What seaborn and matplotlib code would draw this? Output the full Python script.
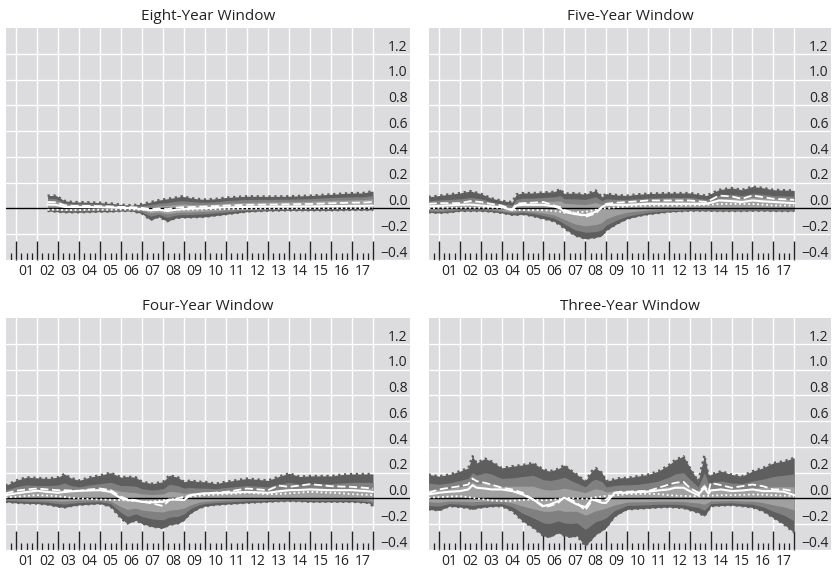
import matplotlib
matplotlib.use('Agg')
import matplotlib.pyplot as plt
import numpy as np
import pandas as pd
import seaborn as sns

sns.set_style('white')
plt.rcParams['font.family'] = ['Open Sans', 'DejaVu Sans']

YEAR_LABELS = ['01', '02', '03', '04', '05', '06', '07', '08', '09',
               '10', '11', '12', '13', '14', '15', '16', '17']
Y_TICKS = [-0.4, -0.2, 0.0, 0.2, 0.4, 0.6, 0.8, 1.0, 1.2]
Y_LABELS = ['\u22120.4', '\u22120.2', '0.0', '0.2', '0.4', '0.6', '0.8', '1.0', '1.2']

# ---- Eight-Year Window ----
eight_x = [2002.5, 2002.9, 2003.3, 2003.7, 2004, 2004.5, 2005, 2005.5, 2006, 2006.5,
           2007, 2007.4, 2007.8, 2008.2, 2008.6, 2008.9, 2009.2, 2009.6, 2010, 2010.5,
           2011, 2011.5, 2012, 2013, 2014, 2015, 2016, 2017, 2017.5, 2018]
eight_outer_hi = [0.10, 0.10, 0.06, 0.05, 0.05, 0.048, 0.045, 0.04, 0.03, 0.025,
                  0.035, 0.05, 0.065, 0.075, 0.085, 0.095, 0.085, 0.075, 0.07, 0.075,
                  0.085, 0.09, 0.095, 0.093, 0.095, 0.10, 0.11, 0.12, 0.12, 0.135]
eight_outer_lo = [-0.02, -0.025, -0.03, -0.03, -0.03, -0.028, -0.025, -0.025, -0.02, -0.02,
                  -0.04, -0.09, -0.065, -0.10, -0.075, -0.07, -0.07, -0.068, -0.065, -0.055,
                  -0.045, -0.035, -0.025, -0.018, -0.015, -0.015, -0.015, -0.012, -0.012, -0.012]
eight_mid_hi = [0.08, 0.075, 0.045, 0.038, 0.038, 0.036, 0.034, 0.03, 0.022, 0.018,
                0.022, 0.03, 0.04, 0.045, 0.055, 0.06, 0.055, 0.05, 0.048, 0.052,
                0.06, 0.065, 0.07, 0.07, 0.072, 0.076, 0.085, 0.09, 0.09, 0.10]
eight_mid_lo = [-0.012, -0.016, -0.02, -0.02, -0.02, -0.018, -0.016, -0.016, -0.012, -0.012,
                -0.028, -0.06, -0.045, -0.07, -0.052, -0.048, -0.048, -0.045, -0.042, -0.035,
                -0.028, -0.02, -0.015, -0.01, -0.008, -0.008, -0.008, -0.006, -0.006, -0.006]
eight_inner_hi = [0.06, 0.055, 0.032, 0.026, 0.026, 0.025, 0.024, 0.02, 0.014, 0.012,
                  0.012, 0.014, 0.02, 0.025, 0.03, 0.035, 0.032, 0.03, 0.03, 0.034,
                  0.04, 0.044, 0.048, 0.05, 0.052, 0.056, 0.062, 0.066, 0.068, 0.075]
eight_inner_lo = [-0.005, -0.008, -0.012, -0.012, -0.012, -0.01, -0.008, -0.008, -0.005, -0.005,
                  -0.015, -0.035, -0.028, -0.042, -0.032, -0.028, -0.028, -0.025, -0.022, -0.018,
                  -0.012, -0.008, -0.005, -0.002, 0.0, 0.0, 0.0, 0.0, 0.0, 0.0]
eight_dashed = [0.05, 0.048, 0.025, 0.02, 0.02, 0.02, 0.018, 0.015, 0.012, 0.01,
                0.005, -0.005, 0.0, -0.005, 0.005, 0.01, 0.01, 0.012, 0.015, 0.018,
                0.022, 0.025, 0.028, 0.03, 0.032, 0.035, 0.04, 0.045, 0.045, 0.05]
eight_solid = [0.03, 0.028, 0.012, 0.01, 0.01, 0.01, 0.008, 0.006, 0.004, 0.003,
               -0.005, -0.015, -0.01, -0.02, -0.01, -0.005, -0.003, 0.0, 0.002, 0.005,
               0.008, 0.01, 0.012, 0.014, 0.015, 0.016, 0.018, 0.02, 0.02, 0.022]
eight_dotted = [-0.01, -0.01, -0.012, -0.012, -0.012, -0.01, -0.01, -0.01, -0.008, -0.008,
                -0.01, -0.012, -0.012, -0.012, -0.01, -0.01, -0.01, -0.008, -0.006, -0.005,
                -0.004, -0.003, -0.002, 0.0, 0.0, 0.002, 0.002, 0.003, 0.003, 0.004]

# ---- Five-Year Window ----
five_x = [2000.5, 2001, 2001.5, 2002, 2002.5, 2003, 2003.5, 2004, 2004.5, 2004.7,
          2005, 2005.5, 2006, 2006.5, 2006.8, 2007, 2007.5, 2008, 2008.5, 2008.8,
          2009, 2009.5, 2010, 2010.5, 2011, 2012, 2013, 2013.8, 2014.4, 2015,
          2015.5, 2016, 2016.5, 2017, 2018]
five_outer_hi = [0.09, 0.10, 0.11, 0.12, 0.135, 0.115, 0.08, 0.06, 0.05, 0.11,
                 0.12, 0.12, 0.125, 0.13, 0.15, 0.115, 0.12, 0.11, 0.14, 0.09,
                 0.115, 0.105, 0.10, 0.11, 0.115, 0.12, 0.12, 0.10, 0.145, 0.16,
                 0.145, 0.17, 0.16, 0.145, 0.14]
five_outer_lo = [-0.03, -0.035, -0.03, -0.02, -0.02, -0.02, -0.025, -0.035, -0.05, -0.05,
                 -0.045, -0.06, -0.08, -0.10, -0.13, -0.155, -0.21, -0.235, -0.225, -0.21,
                 -0.17, -0.12, -0.08, -0.06, -0.045, -0.026, -0.018, -0.018, -0.02, -0.02,
                 -0.02, -0.018, -0.018, -0.02, -0.02]
five_mid_hi = [0.06, 0.065, 0.07, 0.075, 0.085, 0.075, 0.05, 0.035, 0.025, 0.07,
               0.08, 0.08, 0.085, 0.09, 0.10, 0.075, 0.075, 0.07, 0.09, 0.06,
               0.075, 0.07, 0.07, 0.075, 0.08, 0.085, 0.085, 0.07, 0.10, 0.11,
               0.10, 0.115, 0.11, 0.10, 0.095]
five_mid_lo = [-0.02, -0.025, -0.02, -0.012, -0.012, -0.012, -0.015, -0.025, -0.035, -0.035,
               -0.03, -0.04, -0.055, -0.075, -0.10, -0.12, -0.165, -0.185, -0.18, -0.165,
               -0.13, -0.09, -0.06, -0.045, -0.03, -0.018, -0.012, -0.012, -0.014, -0.014,
               -0.014, -0.012, -0.012, -0.014, -0.014]
five_inner_hi = [0.04, 0.04, 0.045, 0.05, 0.055, 0.05, 0.035, 0.02, 0.01, 0.04,
                 0.05, 0.05, 0.055, 0.055, 0.06, 0.04, 0.035, 0.03, 0.045, 0.03,
                 0.045, 0.045, 0.045, 0.05, 0.055, 0.06, 0.06, 0.05, 0.075, 0.08,
                 0.075, 0.085, 0.08, 0.075, 0.07]
five_inner_lo = [-0.01, -0.012, -0.008, 0.0, 0.0, 0.0, -0.005, -0.015, -0.025, -0.02,
                 -0.018, -0.025, -0.035, -0.05, -0.07, -0.085, -0.12, -0.135, -0.125, -0.11,
                 -0.08, -0.05, -0.03, -0.02, -0.012, -0.005, 0.0, 0.0, 0.0, 0.0,
                 0.0, 0.0, 0.0, 0.0, 0.0]
five_dashed = [0.036, 0.041, 0.041, 0.041, 0.057, 0.05, 0.035, 0.023, -0.008, 0.036,
               0.041, 0.045, 0.05, 0.023, 0.01, -0.013, -0.034, -0.065, -0.039, 0.01,
               0.036, 0.045, 0.05, 0.055, 0.062, 0.062, 0.062, 0.05, 0.10, 0.093,
               0.075, 0.10, 0.088, 0.075, 0.067]
five_solid = [0.016, 0.02, 0.024, 0.028, 0.03, 0.023, 0.016, 0.01, -0.013, 0.023,
              0.028, 0.028, 0.028, 0.016, 0.0, -0.026, -0.044, -0.052, -0.026, 0.01,
              0.028, 0.028, 0.028, 0.032, 0.036, 0.036, 0.036, 0.036, 0.062, 0.057,
              0.05, 0.062, 0.055, 0.05, 0.041]
five_dotted = [0.0, 0.005, 0.005, 0.005, 0.005, 0.005, 0.005, 0.005, -0.005, -0.013,
               -0.013, -0.013, -0.013, -0.02, -0.026, -0.034, -0.03, -0.026, -0.01, 0.0,
               0.0, 0.01, 0.016, 0.02, 0.023, 0.023, 0.023, 0.028, 0.034, 0.036,
               0.034, 0.034, 0.03, 0.023, 0.023]

# ---- Four-Year Window ----
four_x = [2000.5, 2001, 2001.5, 2002, 2002.5, 2003, 2003.3, 2003.6, 2004, 2004.5,
          2005, 2005.5, 2006, 2006.3, 2006.7, 2007, 2007.5, 2008, 2008.3, 2008.7,
          2009, 2009.3, 2009.7, 2010, 2010.5, 2011, 2012, 2013, 2013.5, 2014,
          2014.5, 2015, 2016, 2016.5, 2017, 2017.8, 2018]
four_outer_hi = [0.10, 0.14, 0.165, 0.16, 0.155, 0.165, 0.19, 0.16, 0.14, 0.165,
                 0.18, 0.20, 0.165, 0.17, 0.165, 0.13, 0.115, 0.13, 0.18, 0.165,
                 0.13, 0.14, 0.13, 0.13, 0.115, 0.13, 0.155, 0.14, 0.17, 0.195,
                 0.17, 0.175, 0.175, 0.185, 0.19, 0.19, 0.19]
four_outer_lo = [-0.026, -0.034, -0.038, -0.04, -0.048, -0.064, -0.07, -0.06, -0.05, -0.045,
                 -0.04, -0.064, -0.155, -0.195, -0.17, -0.195, -0.22, -0.23, -0.205, -0.195,
                 -0.168, -0.115, -0.077, -0.06, -0.05, -0.044, -0.034, -0.026, -0.022, -0.02,
                 -0.022, -0.026, -0.026, -0.026, -0.026, -0.035, -0.06]
four_mid_hi = [0.065, 0.09, 0.105, 0.10, 0.10, 0.105, 0.12, 0.10, 0.09, 0.105,
               0.115, 0.125, 0.10, 0.10, 0.095, 0.075, 0.065, 0.075, 0.11, 0.10,
               0.08, 0.085, 0.08, 0.08, 0.075, 0.085, 0.10, 0.09, 0.11, 0.125,
               0.11, 0.115, 0.115, 0.12, 0.125, 0.125, 0.125]
four_mid_lo = [-0.015, -0.02, -0.024, -0.026, -0.03, -0.04, -0.045, -0.038, -0.032, -0.028,
               -0.025, -0.04, -0.11, -0.14, -0.12, -0.14, -0.16, -0.165, -0.145, -0.14,
               -0.12, -0.08, -0.05, -0.04, -0.032, -0.028, -0.02, -0.015, -0.012, -0.01,
               -0.012, -0.015, -0.015, -0.015, -0.015, -0.025, -0.04]
four_inner_hi = [0.04, 0.055, 0.065, 0.065, 0.065, 0.065, 0.07, 0.06, 0.055, 0.065,
                 0.07, 0.075, 0.055, 0.05, 0.045, 0.035, 0.03, 0.035, 0.055, 0.05,
                 0.04, 0.045, 0.045, 0.045, 0.045, 0.05, 0.06, 0.055, 0.07, 0.08,
                 0.07, 0.075, 0.075, 0.075, 0.08, 0.08, 0.08]
four_inner_lo = [-0.005, -0.008, -0.01, -0.012, -0.015, -0.02, -0.022, -0.018, -0.015, -0.012,
                 -0.01, -0.02, -0.065, -0.085, -0.075, -0.09, -0.1, -0.105, -0.09, -0.085,
                 -0.075, -0.05, -0.03, -0.022, -0.016, -0.012, -0.008, -0.005, -0.003, 0.0,
                 -0.002, -0.004, -0.004, -0.004, -0.004, -0.012, -0.02]
four_dashed = [0.039, 0.06, 0.07, 0.077, 0.07, 0.064, 0.064, 0.062, 0.059, 0.07,
               0.077, 0.064, 0.013, -0.005, -0.013, -0.026, -0.039, -0.059, -0.013, 0.0,
               0.013, 0.025, 0.035, 0.039, 0.045, 0.051, 0.077, 0.064, 0.10, 0.09,
               0.10, 0.111, 0.095, 0.092, 0.09, 0.08, 0.077]
four_solid = [0.026, 0.039, 0.05, 0.06, 0.05, 0.044, 0.05, 0.055, 0.059, 0.062,
              0.064, 0.051, 0.0, -0.012, -0.018, -0.026, -0.03, -0.026, -0.008, -0.01,
              -0.013, 0.026, 0.035, 0.039, 0.042, 0.044, 0.051, 0.044, 0.055, 0.064,
              0.066, 0.07, 0.064, 0.064, 0.064, 0.055, 0.051]
four_dotted = [0.008, 0.013, 0.02, 0.026, 0.022, 0.018, 0.012, 0.006, 0.0, -0.004,
               -0.008, -0.01, -0.013, -0.016, -0.02, -0.026, -0.022, -0.013, -0.01, 0.0,
               0.008, 0.015, 0.02, 0.026, 0.03, 0.033, 0.044, 0.033, 0.035, 0.039,
               0.045, 0.051, 0.044, 0.04, 0.033, 0.028, 0.026]

# ---- Three-Year Window ----
three_x = [2000.5, 2001, 2001.5, 2002, 2002.4, 2002.6, 2002.8, 2003.2, 2003.5, 2004,
           2004.5, 2005, 2005.5, 2006, 2006.3, 2006.7, 2007, 2007.3, 2007.6, 2008.0,
           2008.3, 2008.5, 2008.8, 2009, 2009.4, 2009.7, 2010, 2010.5, 2011, 2011.5,
           2012, 2012.3, 2012.7, 2013, 2013.4, 2013.7, 2013.9, 2014, 2014.5, 2015,
           2015.5, 2016, 2016.5, 2017, 2017.5, 2018]
three_outer_hi = [0.186, 0.173, 0.186, 0.212, 0.237, 0.328, 0.276, 0.31, 0.289, 0.237,
                  0.25, 0.26, 0.276, 0.225, 0.212, 0.23, 0.26, 0.22, 0.186, 0.134,
                  0.212, 0.237, 0.20, 0.134, 0.15, 0.16, 0.16, 0.173, 0.186, 0.212,
                  0.26, 0.30, 0.328, 0.24, 0.134, 0.336, 0.173, 0.186, 0.212, 0.186,
                  0.173, 0.212, 0.237, 0.276, 0.289, 0.315]
three_outer_lo = [-0.085, -0.093, -0.06, -0.067, -0.075, -0.085, -0.075, -0.067, -0.062, -0.06,
                  -0.098, -0.176, -0.227, -0.292, -0.30, -0.266, -0.29, -0.30, -0.29, -0.37,
                  -0.317, -0.28, -0.25, -0.227, -0.14, -0.11, -0.085, -0.08, -0.075, -0.07,
                  -0.067, -0.07, -0.075, -0.09, -0.11, -0.137, -0.09, -0.06, -0.055, -0.052,
                  -0.06, -0.07, -0.098, -0.15, -0.20, -0.266]
three_mid_hi = [0.12, 0.11, 0.12, 0.14, 0.155, 0.2, 0.18, 0.2, 0.19, 0.155,
                0.16, 0.17, 0.18, 0.145, 0.14, 0.15, 0.165, 0.14, 0.12, 0.09,
                0.135, 0.15, 0.13, 0.09, 0.1, 0.105, 0.105, 0.11, 0.12, 0.135,
                0.165, 0.19, 0.2, 0.15, 0.09, 0.2, 0.115, 0.12, 0.135, 0.12,
                0.115, 0.135, 0.15, 0.17, 0.18, 0.19]
three_mid_lo = [-0.055, -0.06, -0.04, -0.045, -0.05, -0.055, -0.05, -0.045, -0.042, -0.04,
                -0.065, -0.115, -0.15, -0.19, -0.195, -0.175, -0.19, -0.195, -0.19, -0.24,
                -0.205, -0.18, -0.165, -0.15, -0.095, -0.075, -0.055, -0.052, -0.05, -0.045,
                -0.045, -0.045, -0.05, -0.06, -0.07, -0.09, -0.06, -0.04, -0.036, -0.034,
                -0.04, -0.045, -0.065, -0.1, -0.13, -0.175]
three_inner_hi = [0.07, 0.07, 0.075, 0.09, 0.1, 0.13, 0.11, 0.12, 0.115, 0.095,
                  0.095, 0.095, 0.095, 0.07, 0.065, 0.07, 0.08, 0.07, 0.06, 0.045,
                  0.065, 0.075, 0.065, 0.05, 0.06, 0.06, 0.06, 0.065, 0.07, 0.08,
                  0.095, 0.11, 0.12, 0.09, 0.06, 0.12, 0.07, 0.075, 0.08, 0.075,
                  0.07, 0.08, 0.085, 0.09, 0.09, 0.09]
three_inner_lo = [-0.025, -0.03, -0.02, -0.022, -0.024, -0.026, -0.024, -0.022, -0.02, -0.02,
                  -0.035, -0.06, -0.08, -0.1, -0.1, -0.09, -0.1, -0.1, -0.1, -0.13,
                  -0.11, -0.095, -0.085, -0.075, -0.05, -0.04, -0.028, -0.026, -0.025, -0.022,
                  -0.022, -0.022, -0.025, -0.03, -0.035, -0.045, -0.03, -0.02, -0.018, -0.017,
                  -0.02, -0.022, -0.032, -0.05, -0.065, -0.09]
three_dashed = [0.044, 0.07, 0.083, 0.095, 0.108, 0.155, 0.134, 0.121, 0.108, 0.083,
                0.07, 0.044, -0.008, -0.067, -0.059, -0.034, 0.01, -0.008, -0.034, -0.093,
                -0.021, -0.008, -0.016, -0.008, 0.044, 0.052, 0.052, 0.057, 0.057, 0.083,
                0.108, 0.121, 0.129, 0.083, 0.044, 0.095, 0.052, 0.121, 0.103, 0.083,
                0.095, 0.108, 0.095, 0.07, 0.07, 0.057]
three_solid = [0.031, 0.044, 0.052, 0.057, 0.07, 0.103, 0.083, 0.077, 0.07, 0.07,
               0.057, 0.031, -0.008, -0.059, -0.047, -0.021, 0.005, -0.021, -0.047, -0.067,
               -0.008, -0.016, -0.034, -0.034, 0.044, 0.044, 0.044, 0.049, 0.052, 0.062,
               0.07, 0.083, 0.083, 0.057, 0.026, 0.083, 0.036, 0.062, 0.07, 0.057,
               0.062, 0.07, 0.057, 0.057, 0.052, 0.026]
three_dotted = [0.005, 0.01, 0.015, 0.018, 0.01, 0.005, 0.0, -0.008, -0.015, -0.02,
                -0.018, -0.012, -0.008, -0.015, -0.012, -0.005, 0.005, 0.003, 0.0, -0.005,
                0.005, 0.01, 0.015, 0.02, 0.024, 0.028, 0.034, 0.035, 0.036, 0.034,
                0.026, 0.022, 0.02, 0.018, 0.018, 0.02, 0.02, 0.022, 0.025, 0.026,
                0.028, 0.031, 0.03, 0.026, 0.022, 0.018]

panels = [
    ('Eight-Year Window', eight_x, eight_outer_hi, eight_outer_lo, eight_mid_hi, eight_mid_lo,
     eight_inner_hi, eight_inner_lo, eight_dashed, eight_solid, eight_dotted),
    ('Five-Year Window', five_x, five_outer_hi, five_outer_lo, five_mid_hi, five_mid_lo,
     five_inner_hi, five_inner_lo, five_dashed, five_solid, five_dotted),
    ('Four-Year Window', four_x, four_outer_hi, four_outer_lo, four_mid_hi, four_mid_lo,
     four_inner_hi, four_inner_lo, four_dashed, four_solid, four_dotted),
    ('Three-Year Window', three_x, three_outer_hi, three_outer_lo, three_mid_hi, three_mid_lo,
     three_inner_hi, three_inner_lo, three_dashed, three_solid, three_dotted),
]

BG = '#dcdcde'
DARK = '#5e5e5e'
MID = '#808080'
LIGHT = '#a0a0a0'
TICK = '#222222'
W, H = 834, 569
# left, top, width (pixels) of each panel
boxes = [(6, 28, 404), (429, 28, 402), (6, 318, 404), (429, 318, 402)]
quarters = [y + q for y in range(2000, 2018) for q in (0.25, 0.5, 0.75) if y + q > 2000.6]

fig = plt.figure(figsize=(W / 100, H / 100), dpi=100)

for (title, x, ohi, olo, mhi, mlo, ihi, ilo, dash, solid, dot), (px, py, pw) in zip(panels, boxes):
    ax = fig.add_axes([px / W, 1 - (py + 232) / H, pw / W, 232 / H])
    ax.set_facecolor(BG)
    for sp in ax.spines.values():
        sp.set_visible(False)
    ax.set_xlim(2000.52, 2019.76)
    ax.set_ylim(-0.4, 1.4)

    ax.fill_between(x, olo, ohi, color=DARK, lw=0, zorder=2)
    ax.plot(x, ohi, color=DARK, ls=':', lw=1.6, zorder=2)
    ax.plot(x, olo, color=DARK, ls=':', lw=1.6, zorder=2)
    ax.fill_between(x, mlo, mhi, color=MID, lw=0, zorder=2)
    ax.fill_between(x, ilo, ihi, color=LIGHT, lw=0, zorder=2)
    ax.axhline(0, color='black', lw=1, zorder=3)

    df = pd.DataFrame({'year': x, 'dashed': dash, 'solid': solid, 'dotted': dot})
    sns.lineplot(data=df, x='year', y='dotted', ax=ax, color='white', lw=1.3,
                 linestyle=(0, (1, 1.5)), estimator=None, sort=False, zorder=4)
    sns.lineplot(data=df, x='year', y='dashed', ax=ax, color='white', lw=1.3,
                 linestyle=(0, (4.5, 2)), estimator=None, sort=False, zorder=4)
    sns.lineplot(data=df, x='year', y='solid', ax=ax, color='white', lw=1.5,
                 estimator=None, sort=False, zorder=4)
    ax.set_xlabel('')
    ax.set_ylabel('')

    ax.set_yticks(Y_TICKS)
    ax.tick_params(axis='y', length=0, left=False, labelleft=False)
    ax.grid(axis='y', color='white', lw=1)
    for v, lab in zip(Y_TICKS, Y_LABELS):
        ax.text(0.994, v + 0.025, lab, transform=ax.get_yaxis_transform(),
                ha='right', va='baseline', fontsize=10, color=TICK)

    # year ticks (long) and quarter ticks (short), drawn inward from the bottom
    ax.set_xticks(np.arange(2001, 2019))
    ax.tick_params(axis='x', which='major', bottom=True, direction='in', length=14,
                   width=1, color=TICK, labelbottom=False)
    ax.vlines(quarters, 0, 7 / 232, transform=ax.get_xaxis_transform(),
              color=TICK, lw=0.9, zorder=1)
    ax.grid(axis='x', which='major', color='white', lw=1)
    ax.set_axisbelow(True)

    sec = ax.secondary_xaxis('bottom')
    sec.set_xticks(np.arange(2001.5, 2018, 1.0), labels=YEAR_LABELS)
    sec.tick_params(bottom=True, length=0, pad=3, labelsize=10, labelcolor=TICK)
    for sp in sec.spines.values():
        sp.set_visible(False)

    ax.set_title(title, fontsize=11, pad=6, color=TICK)

fig.savefig('out.png', dpi=100)
